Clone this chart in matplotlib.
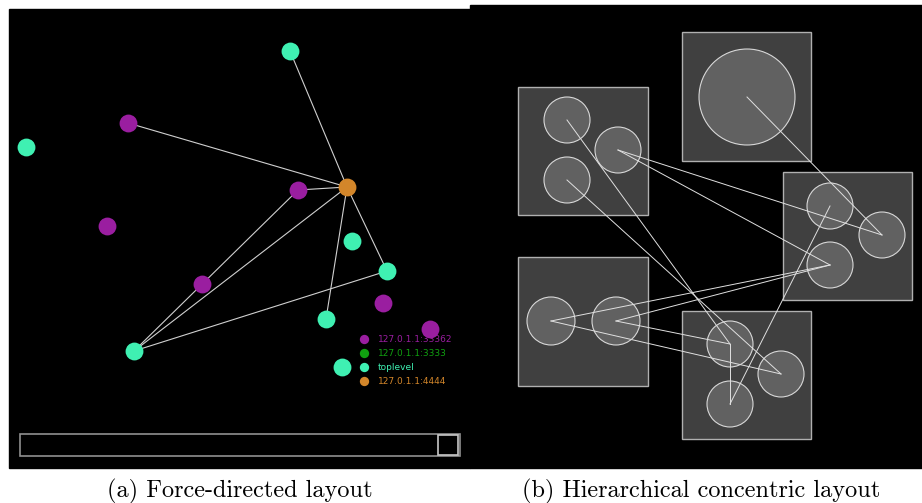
import matplotlib.pyplot as plt
from matplotlib.patches import Rectangle, Circle

# left panel: force-directed graph (pixel coords)
node_x = [290, 128, 26, 347, 298, 107, 352, 387, 202, 383, 326, 430, 134, 342]
node_y = [51, 123, 147, 187, 190, 226, 241, 271, 284, 303, 319, 329, 351, 367]
node_group = ["top", "p", "top", "o", "p", "p", "top", "top", "p", "p", "top", "p", "top", "top"]
edges_a = [(0, 3), (1, 3), (4, 3), (3, 7), (3, 10), (3, 12), (12, 4), (12, 7)]

group_colors = {"p": "#9a1ea0", "g": "#10a010", "top": "#3ff0b2", "o": "#d3862a"}
legend_labels = ["127.0.1.1:33362", "127.0.1.1:3333", "toplevel", "127.0.1.1:4444"]
legend_keys = ["p", "g", "top", "o"]

# right panel: hierarchical concentric layout
box_x0 = [518, 682, 783, 518, 682]
box_y0 = [87, 32, 172, 257, 311]
box_w = [130, 129, 129, 130, 129]
box_h = [128, 129, 128, 129, 128]
circ_x = [567, 618, 567, 747, 830, 882, 830, 551, 616, 730, 781, 730]
circ_y = [120, 150, 180, 97, 206, 235, 265, 321, 321, 344, 374, 404]
circ_r = [23, 23, 23, 48, 23, 23, 23, 24, 24, 23, 23, 23]
edges_b = [(3, 5), (0, 9), (2, 10), (1, 5), (1, 6), (4, 11), (7, 6), (8, 6), (7, 10), (8, 9), (9, 11)]

fig = plt.figure(figsize=(9.22, 5.03), dpi=100)
ax = fig.add_axes([0, 0, 1, 1])
ax.set_xlim(0, 922)
ax.set_ylim(503, 0)
ax.axis("off")

# backgrounds
ax.add_patch(Rectangle((9, 9), 461, 459, color="black", zorder=0))
ax.add_patch(Rectangle((470, 5), 452, 463, color="black", zorder=0))

# left panel
for a, b in edges_a:
    ax.plot([node_x[a], node_x[b]], [node_y[a], node_y[b]], color="#d0d0d0", lw=0.8, zorder=1)
for x, y, g in zip(node_x, node_y, node_group):
    ax.scatter(x, y, s=165, color=group_colors[g], zorder=2, linewidths=0)

for i, (lab, k) in enumerate(zip(legend_labels, legend_keys)):
    ly = 339 + i * 14
    ax.scatter(364, ly, s=45, color=group_colors[k], zorder=1.5, linewidths=0)
    ax.text(378, ly, lab, color=group_colors[k], fontsize=6.5, va="center", ha="left",
            family="DejaVu Sans", zorder=1.5)

# scrollbar
ax.add_patch(Rectangle((20, 434), 440, 22, fill=False, ec="#909090", lw=1.2, zorder=3))
ax.add_patch(Rectangle((438, 435), 20, 20, fill=False, ec="#c8c8c8", lw=1.2, zorder=3))

# right panel
for x0, y0, w, h in zip(box_x0, box_y0, box_w, box_h):
    ax.add_patch(Rectangle((x0, y0), w, h, fc="#404040", ec="#b0b0b0", lw=1.0, zorder=1))
for x, y, r in zip(circ_x, circ_y, circ_r):
    ax.add_patch(Circle((x, y), r, fc="#616161", ec="#d8d8d8", lw=0.8, zorder=2))
for a, b in edges_b:
    ax.plot([circ_x[a], circ_x[b]], [circ_y[a], circ_y[b]], color="#e0e0e0", lw=0.7, zorder=3)

# captions
ax.text(240, 497, "(a) Force-directed layout", family="cmr10", fontsize=17.5,
        ha="center", va="baseline")
ax.text(701, 497, "(b) Hierarchical concentric layout", family="cmr10", fontsize=17.5,
        ha="center", va="baseline")

fig.savefig("out.png", dpi=100)
